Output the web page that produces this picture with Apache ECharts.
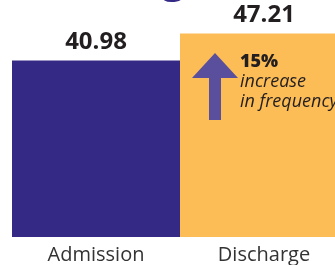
<!DOCTYPE html>
<html>
<head>
<meta charset="utf-8">
<script src="https://cdn.jsdelivr.net/npm/echarts@6/dist/echarts.min.js"></script>
<style>
  html, body { margin: 0; padding: 0; background: #fff; }
  #chart { width: 335px; height: 265px; }
</style>
</head>
<body>
<div id="chart"></div>
<script>
// 数据
const categories = ['Admission', 'Discharge'];
const values = [40.98, 47.21];
const barColors = ['#342a86', '#fcbd56'];

const chart = echarts.init(document.getElementById('chart'));

const option = {
  animation: false,
  // 第二根柱子超出画布右边
  grid: { left: 12, width: 336, top: 0, bottom: 28, outerBoundsMode: 'none', containLabel: false },
  xAxis: {
    type: 'category',
    data: categories,
    axisLine: { show: false },
    axisTick: { show: false },
    axisLabel: {
      fontFamily: 'Open Sans',
      fontSize: 20,
      color: '#333',
      margin: 8
    }
  },
  yAxis: {
    type: 'value',
    min: 0,
    max: 55,
    show: false
  },
  series: [{
    type: 'bar',
    barWidth: '100%',
    data: values.map((v, i) => ({ value: v, itemStyle: { color: barColors[i] } })),
    label: {
      show: true,
      position: 'top',
      distance: 6,
      fontFamily: 'Open Sans',
      fontWeight: 'bold',
      fontSize: 24,
      color: '#231f20',
      formatter: p => p.value.toFixed(2)
    }
  }],
  graphic: [
    // 标题被裁切，只露出底部
    {
      type: 'text',
      left: 162,
      top: -38,
      z: 10,
      style: { text: 'g', font: 'bold 40px "Open Sans"', fill: '#342a86' }
    },
    // 箭头注释
    {
      type: 'polygon',
      z: 10,
      shape: {
        points: [[215, 53], [238, 78], [221, 78], [221, 120], [209, 120], [209, 78], [192, 78]]
      },
      style: { fill: '#5a4f9c' }
    },
    {
      type: 'text',
      left: 240,
      top: 53,
      z: 10,
      style: { text: '15%', font: '800 18px "Open Sans"', fill: '#231f20' }
    },
    {
      type: 'text',
      left: 240,
      top: 73,
      z: 10,
      style: { text: 'increase', font: 'italic 18px "Open Sans"', fill: '#231f20' }
    },
    {
      type: 'text',
      left: 240,
      top: 93,
      z: 10,
      style: { text: 'in frequency', font: 'italic 18px "Open Sans"', fill: '#231f20' }
    }
  ]
};

chart.setOption(option);
</script>
</body>
</html>
